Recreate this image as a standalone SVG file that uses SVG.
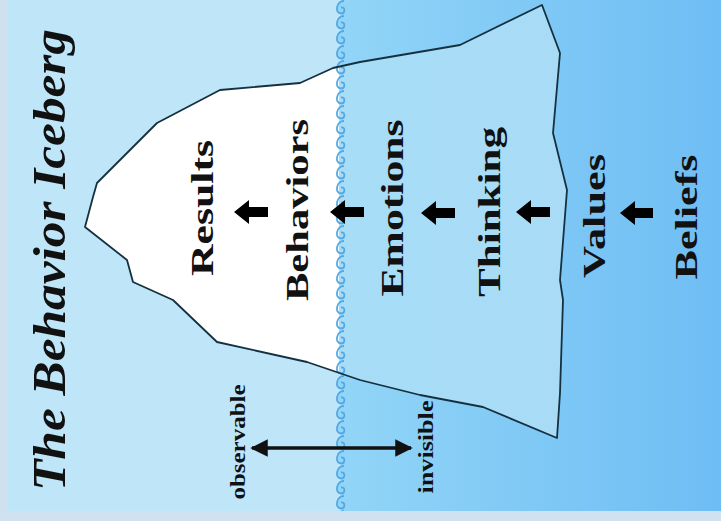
<svg xmlns="http://www.w3.org/2000/svg" width="721" height="521" viewBox="0 0 721 521">
<style>
.lbl{font-family:"Liberation Serif","DejaVu Serif",serif;font-weight:bold;fill:#111;text-anchor:middle}
.title{font-family:"Liberation Serif","DejaVu Serif",serif;font-weight:bold;font-style:italic;fill:#111;text-anchor:middle}
.small{font-family:"Liberation Serif","DejaVu Serif",serif;font-weight:bold;fill:#111;text-anchor:middle}
.outline{fill:none;stroke:#15303f;stroke-width:1.8;stroke-linejoin:round}
.arr{fill:#000}
</style>
<defs>
<linearGradient id="water" x1="0" y1="0" x2="1" y2="0">
<stop offset="0" stop-color="#92d5f7"/>
<stop offset="1" stop-color="#6ebdf4"/>
</linearGradient>
<linearGradient id="under" x1="0" y1="0" x2="1" y2="0">
<stop offset="0" stop-color="#a5dff9"/>
<stop offset="1" stop-color="#a9dbf6"/>
</linearGradient>
<clipPath id="above"><rect x="0" y="0" width="339" height="521"/></clipPath>
<pattern id="curl" x="331" y="0" width="17" height="15" patternUnits="userSpaceOnUse">
<path d="M 13 1 C 5 1, 3.5 13.5, 10 13.5 C 14.5 13.5, 14.5 6.5, 10 7.5" fill="none" stroke="#52a9e4" stroke-width="1.8"/>
</pattern>
<marker id="ah" viewBox="0 0 10 10" refX="9" refY="5" markerWidth="5" markerHeight="5" orient="auto-start-reverse">
<path d="M0 0 L10 5 L0 10 Z" fill="#111"/>
</marker>
</defs>

<g id="background">
<rect x="0" y="0" width="721" height="521" fill="#bee6f8"/>
<path id="water-region" d="M 342 0 a 8 8 0 0 0 0 15 a 8 8 0 0 0 0 15 a 8 8 0 0 0 0 15 a 8 8 0 0 0 0 15 a 8 8 0 0 0 0 15 a 8 8 0 0 0 0 15 a 8 8 0 0 0 0 15 a 8 8 0 0 0 0 15 a 8 8 0 0 0 0 15 a 8 8 0 0 0 0 15 a 8 8 0 0 0 0 15 a 8 8 0 0 0 0 15 a 8 8 0 0 0 0 15 a 8 8 0 0 0 0 15 a 8 8 0 0 0 0 15 a 8 8 0 0 0 0 15 a 8 8 0 0 0 0 15 a 8 8 0 0 0 0 15 a 8 8 0 0 0 0 15 a 8 8 0 0 0 0 15 a 8 8 0 0 0 0 15 a 8 8 0 0 0 0 15 a 8 8 0 0 0 0 15 a 8 8 0 0 0 0 15 a 8 8 0 0 0 0 15 a 8 8 0 0 0 0 15 a 8 8 0 0 0 0 15 a 8 8 0 0 0 0 15 a 8 8 0 0 0 0 15 a 8 8 0 0 0 0 15 a 8 8 0 0 0 0 15 a 8 8 0 0 0 0 15 a 8 8 0 0 0 0 15 a 8 8 0 0 0 0 15 a 8 8 0 0 0 0 15 L 721 525 L 721 0 Z" fill="url(#water)"/>
</g>

<g id="iceberg">
<path id="iceberg-under" d="M 542 5 L 460 45 L 360 62 L 333 68 L 300 83 L 220 90 L 157 123 L 97 183 L 93 197 L 85 227 L 127 260 L 133 282 L 173 300 L 217 342 L 307 362 L 360 380 L 420 395 L 483 407 L 557 438 L 560 393 L 563 300 L 560 280 L 567 190 L 553 133 L 560 53 Z" fill="url(#under)"/>
<path id="iceberg-above" clip-path="url(#above)" d="M 542 5 L 460 45 L 360 62 L 333 68 L 300 83 L 220 90 L 157 123 L 97 183 L 93 197 L 85 227 L 127 260 L 133 282 L 173 300 L 217 342 L 307 362 L 360 380 L 420 395 L 483 407 L 557 438 L 560 393 L 563 300 L 560 280 L 567 190 L 553 133 L 560 53 Z" fill="#ffffff"/>
</g>

<g id="waterline">
<rect x="331" y="0" width="17" height="511" fill="url(#curl)"/>
</g>

<g id="iceberg-outline">
<path class="outline" d="M 542 5 L 460 45 L 360 62 L 333 68 L 300 83 L 220 90 L 157 123 L 97 183 L 93 197 L 85 227 L 127 260 L 133 282 L 173 300 L 217 342 L 307 362 L 360 380 L 420 395 L 483 407 L 557 438 L 560 393 L 563 300 L 560 280 L 567 190 L 553 133 L 560 53 Z"/>
</g>

<g id="frame">
<rect x="0" y="0" width="8" height="521" fill="#cfe1f1"/>
<rect x="0" y="511" width="721" height="10" fill="#d0e2f2"/>
</g>

<g id="title">
<text class="title" transform="translate(65,260) rotate(-90)" font-size="46" textLength="462" lengthAdjust="spacingAndGlyphs">The Behavior Iceberg</text>
</g>

<g id="node-results"><text class="lbl" transform="translate(213,208) rotate(-90)" font-size="31" textLength="136" lengthAdjust="spacingAndGlyphs">Results</text></g>
<g id="node-behaviors"><text class="lbl" transform="translate(308,210) rotate(-90)" font-size="31" textLength="182" lengthAdjust="spacingAndGlyphs">Behaviors</text></g>
<g id="node-emotions"><text class="lbl" transform="translate(403,208) rotate(-90)" font-size="31" textLength="177" lengthAdjust="spacingAndGlyphs">Emotions</text></g>
<g id="node-thinking"><text class="lbl" transform="translate(500,212) rotate(-90)" font-size="31" textLength="170" lengthAdjust="spacingAndGlyphs">Thinking</text></g>
<g id="node-values"><text class="lbl" transform="translate(605,216) rotate(-90)" font-size="31" textLength="124" lengthAdjust="spacingAndGlyphs">Values</text></g>
<g id="node-beliefs"><text class="lbl" transform="translate(697,217) rotate(-90)" font-size="31" textLength="125" lengthAdjust="spacingAndGlyphs">Beliefs</text></g>

<g id="connectors">
<path class="arr" d="M 234 212 L 249 200 L 249 207 L 268 207 L 268 217 L 249 217 L 249 224 Z"/>
<path class="arr" d="M 330 212 L 345 200 L 345 207 L 364 207 L 364 217 L 345 217 L 345 224 Z"/>
<path class="arr" d="M 421 213 L 436 201 L 436 208 L 455 208 L 455 218 L 436 218 L 436 225 Z"/>
<path class="arr" d="M 516 212 L 531 200 L 531 207 L 550 207 L 550 217 L 531 217 L 531 224 Z"/>
<path class="arr" d="M 620 213 L 635 201 L 635 208 L 653 208 L 653 218 L 635 218 L 635 225 Z"/>
<line x1="252" y1="448" x2="411" y2="448" stroke="#111" stroke-width="3.5" marker-start="url(#ah)" marker-end="url(#ah)"/>
</g>

<g id="label-observable"><text class="small" transform="translate(245,442) rotate(-90)" font-size="20" textLength="115" lengthAdjust="spacingAndGlyphs">observable</text></g>
<g id="label-invisible"><text class="small" transform="translate(433,447) rotate(-90)" font-size="20" textLength="93" lengthAdjust="spacingAndGlyphs">invisible</text></g>
</svg>
